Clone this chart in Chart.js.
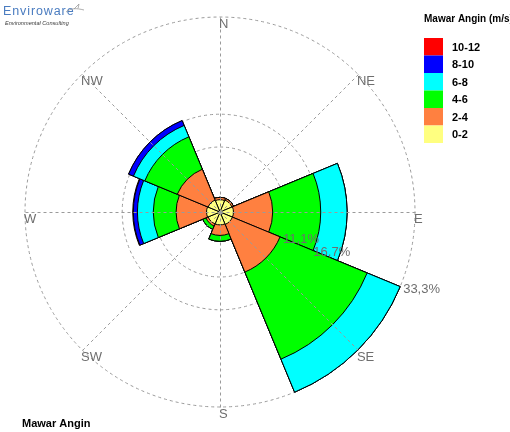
<!DOCTYPE html>
<html>
<head>
<meta charset="utf-8">
<script src="https://cdn.jsdelivr.net/npm/chart.js@4/dist/chart.umd.min.js"></script>
<style>
  html, body { margin: 0; padding: 0; background: #ffffff; }
  #wrap { position: relative; width: 510px; height: 432px; overflow: hidden; }
  #rose { position: absolute; left: 0; top: 0; }
  .logo { position: absolute; left: 3px; top: 2px; width: 82px; height: 28px; }
  .logo .brand { position: absolute; left: 0; top: 2px; font-family: Arial, "Liberation Sans", sans-serif;
    font-size: 12.5px; letter-spacing: 0.9px; color: #4a7cc0; line-height: 14px; }
  .logo .sub { position: absolute; left: 2px; top: 18px; font-family: Arial, "Liberation Sans", sans-serif;
    font-size: 5.6px; font-style: italic; color: #3a3a3a; line-height: 7px; white-space: nowrap; }
  .logo svg { position: absolute; left: 62px; top: 0; }
</style>
</head>
<body>
<div id="wrap">
  <canvas id="rose" width="510" height="432"></canvas>
  <div class="logo">
    <div class="brand">Enviroware</div>
    <div class="sub">Environmental Consulting</div>
    <svg width="20" height="14" viewBox="0 0 20 14">
      <path d="M1 10 C6 6, 11 6, 19 8" stroke="#9a9a9a" stroke-width="0.8" fill="none"/>
      <path d="M9 7 L14 2 L13 6.5" stroke="#9a9a9a" stroke-width="0.8" fill="none"/>
    </svg>
  </div>
</div>
<script>
// Wind directions (8 sectors, clockwise from north)
const directions = ['N', 'NE', 'E', 'SE', 'S', 'SW', 'W', 'NW'];

// Wind speed classes (m/s)
const speedClasses = ['0-2', '2-4', '4-6', '6-8', '8-10', '10-12'];
const speedColors = ['#ffff80', '#ff8040', '#00ff00', '#00ffff', '#0000ff', '#ff0000'];

// Frequency (%) of each speed class per direction
const speed0to2   = [2.1, 2.2, 2.3, 2.3, 2.2, 2.2, 2.3, 2.2];
const speed2to4   = [0.4, 0.3, 6.7, 8.8, 1.8, 0.4, 5.2, 5.7];
const speed4to6   = [0.0, 0.0, 8.2, 16.1, 1.0, 0.6, 3.9, 6.0];
const speed6to8   = [0.0, 0.0, 4.5, 6.1, 0.0, 0.0, 2.7, 2.1];
const speed8to10  = [0.0, 0.0, 0.0, 0.0, 0.0, 0.0, 0.7, 0.9];
const speed10to12 = [0.0, 0.0, 0.0, 0.0, 0.0, 0.0, 0.1, 0.0];

// Frequency rings (%)
const ringTicks = [11.1, 16.7, 33.3];
const ringLabels = ['11,1%', '16,7%', '33,3%'];

const chartTitle = 'Mawar Angin';
const legendTitle = 'Mawar Angin (m/s)';

const bins = [speed0to2, speed2to4, speed4to6, speed6to8, speed8to10, speed10to12];

// Each petal is stacked: every class is drawn as the running total up to that class,
// the innermost class on top.
const running = directions.map(() => 0);
const datasets = bins.map((vals, k) => {
  const data = vals.map((v, i) => (running[i] = +(running[i] + v).toFixed(2)));
  return {
    label: speedClasses[k],
    data: data,
    backgroundColor: speedColors[k],
    borderColor: '#000000',
    borderWidth: 1
  };
});

const FONT = 'Arial, "Liberation Sans", sans-serif';
const GRID = '#9a9a9a';

const decorations = {
  id: 'roseDecorations',
  afterDatasetsDraw(chart) {
    const s = chart.scales.r;
    const ctx = chart.ctx;
    const cx = s.xCenter, cy = s.yCenter;
    const R = s.getDistanceFromCenterForValue(s.max);
    ctx.save();
    // compass spokes and labels
    ctx.strokeStyle = GRID;
    ctx.lineWidth = 1;
    ctx.setLineDash([3, 3]);
    directions.forEach((d, i) => {
      const a = i * 2 * Math.PI / directions.length;
      const x = cx + R * Math.sin(a), y = cy - R * Math.cos(a);
      ctx.beginPath();
      ctx.moveTo(cx + 0.5, cy + 0.5);
      ctx.lineTo(x + 0.5, y + 0.5);
      ctx.stroke();
    });
    ctx.setLineDash([]);
    ctx.fillStyle = '#6e6e6e';
    ctx.font = '13px ' + FONT;
    ctx.textAlign = 'left';
    ctx.textBaseline = 'top';
    directions.forEach((d, i) => {
      const a = i * 2 * Math.PI / directions.length;
      const x = cx + R * Math.sin(a), y = cy - R * Math.cos(a);
      ctx.fillText(d, x - 1, y + 1);
    });
    // ring labels along the ESE bearing
    const la = 112.5 * Math.PI / 180;
    ctx.textBaseline = 'middle';
    ringTicks.forEach((v, k) => {
      const rr = s.getDistanceFromCenterForValue(v);
      ctx.fillText(ringLabels[k], cx + rr * Math.sin(la) + 3, cy - rr * Math.cos(la) + 3);
    });
    ctx.restore();
  },
  afterDraw(chart) {
    const ctx = chart.ctx;
    ctx.save();
    // legend
    ctx.fillStyle = '#000000';
    ctx.font = 'bold 10px ' + FONT;
    ctx.textAlign = 'left';
    ctx.textBaseline = 'middle';
    ctx.fillText(legendTitle, 424, 19);
    const lx = 424, ly = 38, bw = 19, bh = 17.5;
    ctx.font = 'bold 11px ' + FONT;
    for (let k = 0; k < speedClasses.length; k++) {
      const idx = speedClasses.length - 1 - k;
      ctx.fillStyle = speedColors[idx];
      ctx.fillRect(lx, ly + k * bh, bw, bh);
      ctx.fillStyle = '#000000';
      ctx.fillText(speedClasses[idx], 452, ly + k * bh + bh / 2 + 1);
    }
    // chart title
    ctx.font = 'bold 11px ' + FONT;
    ctx.fillText(chartTitle, 22, 424);
    ctx.restore();
  }
};

new Chart(document.getElementById('rose'), {
  type: 'polarArea',
  data: { labels: directions, datasets: datasets },
  options: {
    responsive: false,
    animation: false,
    events: [],
    layout: { padding: { left: 25, top: 17, right: 95, bottom: 25 } },
    plugins: { legend: { display: false }, tooltip: { enabled: false } },
    scales: {
      r: {
        type: 'radialLinear',
        min: 0,
        max: ringTicks[ringTicks.length - 1],
        startAngle: -180 / directions.length,
        z: 1,
        angleLines: { display: false },
        pointLabels: { display: false },
        ticks: { display: false },
        grid: { circular: true, color: GRID, lineWidth: 1, borderDash: [3, 3] },
        border: { dash: [3, 3] },
        afterBuildTicks(scale) {
          scale.ticks = [0].concat(ringTicks).map(v => ({ value: v }));
        }
      }
    }
  },
  plugins: [decorations]
});
</script>
</body>
</html>
